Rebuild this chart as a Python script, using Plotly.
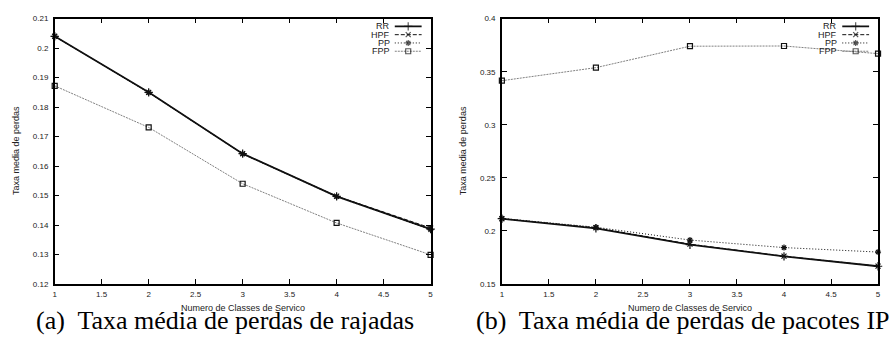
import plotly.graph_objects as go

classes = [1, 2, 3, 4, 5]

# (a) Taxa media de perdas de rajadas
a_rr = [0.2040, 0.1850, 0.1642, 0.1497, 0.1386]
a_hpf = [0.2040, 0.1850, 0.1642, 0.1498, 0.1390]
a_pp = [0.2040, 0.1849, 0.1641, 0.1496, 0.1384]
a_fpp = [0.1872, 0.1731, 0.1540, 0.1407, 0.1299]

# (b) Taxa media de perdas de pacotes IP
b_rr = [0.2115, 0.2025, 0.1870, 0.1760, 0.1667]
b_hpf = [0.2115, 0.2030, 0.1875, 0.1762, 0.1668]
b_pp = [0.2118, 0.2035, 0.1914, 0.1843, 0.1801]
b_fpp = [0.3415, 0.3538, 0.3740, 0.3742, 0.3670]

series_names = ["RR", "HPF", "PP", "FPP"]

x_tickvals = [1, 1.5, 2, 2.5, 3, 3.5, 4, 4.5, 5]
x_ticktext = ["1", "1.5", "2", "2.5", "3", "3.5", "4", "4.5", "5"]
a_tickvals = [0.12, 0.13, 0.14, 0.15, 0.16, 0.17, 0.18, 0.19, 0.20, 0.21]
a_ticktext = ["0.12", "0.13", "0.14", "0.15", "0.16", "0.17", "0.18", "0.19", "0.2", "0.21"]
b_tickvals = [0.15, 0.20, 0.25, 0.30, 0.35, 0.40]
b_ticktext = ["0.15", "0.2", "0.25", "0.3", "0.35", "0.4"]

captions = ["(a)  Taxa média de perdas de rajadas", "(b)  Taxa média de perdas de pacotes IP"]
x_title = "Numero de Classes de Servico"
y_title = "Taxa media de perdas"

styles = {
    "RR": dict(color="#111111", dash="solid", width=1.8, symbol="cross-thin-open", msize=6),
    "HPF": dict(color="#111111", dash="4px,2px", width=1.0, symbol="x-thin-open", msize=5),
    "PP": dict(color="#111111", dash="1px,2px", width=1.0, symbol="asterisk-open", msize=5),
    "FPP": dict(color="#808080", dash="2px,1px", width=1.0, symbol="square-open", msize=5),
}

W, H = 890, 345
def px_x(p):
    return p / W
def px_y(p):
    return 1 - p / H

TOP, BOT = 15, 287.5
ydom = [px_y(BOT), px_y(TOP)]
panel_px = [(53, 431), (502.7, 881)]
xdoms = [[px_x(a), px_x(b)] for a, b in panel_px]

fig = go.Figure()

panels = [
    ("x", "y", [a_rr, a_hpf, a_pp, a_fpp]),
    ("x2", "y2", [b_rr, b_hpf, b_pp, b_fpp]),
]
for xa, ya, data in panels:
    for name, vals in zip(series_names, data):
        s = styles[name]
        fig.add_trace(go.Scatter(
            x=classes, y=vals, name=name, xaxis=xa, yaxis=ya, showlegend=False,
            mode="lines+markers", cliponaxis=False,
            line=dict(color=s["color"], dash=s["dash"], width=s["width"]),
            marker=dict(symbol=s["symbol"], size=s["msize"],
                        line=dict(color="#111111", width=1.2), color="#111111"),
        ))

# gnuplot-style key: overlay axes measured in pixels from the panel's top-right corner
legend_font = dict(family="Liberation Sans, Arial, sans-serif", size=9, color="#222222")
for k, (xa, ya) in enumerate([("x3", "y3"), ("x4", "y4")]):
    pw = panel_px[k][1] - panel_px[k][0]
    for i, name in enumerate(series_names):
        s = styles[name]
        yrow = 8 + 8.5 * i
        fig.add_trace(go.Scatter(
            x=[pw - 36, pw - 22.5, pw - 9], y=[yrow] * 3, xaxis=xa, yaxis=ya, showlegend=False,
            mode="lines+markers", hoverinfo="skip",
            line=dict(color=s["color"], dash=s["dash"], width=s["width"]),
            marker=dict(symbol=s["symbol"], size=[0, s["msize"], 0],
                        line=dict(color="#111111", width=1.2), color="#111111"),
        ))
        fig.add_annotation(xref=xa, yref=ya, x=pw - 40, y=yrow, text=name, showarrow=False,
                           xanchor="right", yanchor="middle", font=legend_font, borderpad=0)

tickfont = dict(family="Liberation Sans, Arial, sans-serif", size=8, color="#222222")
axis_common = dict(showline=True, linecolor="black", linewidth=1.5, mirror="allticks",
                   ticks="inside", ticklen=5, tickcolor="black", tickwidth=1,
                   showgrid=False, zeroline=False, tickfont=tickfont)
xaxis_common = dict(axis_common, ticklabelstandoff=2)
yaxis_common = dict(axis_common, ticklabelstandoff=3)
hidden = dict(visible=False, showgrid=False, zeroline=False, fixedrange=True)

fig.update_layout(
    width=W, height=H,
    margin=dict(l=0, r=0, t=0, b=0),
    paper_bgcolor="white", plot_bgcolor="rgba(0,0,0,0)",
    showlegend=False,
    xaxis=dict(domain=xdoms[0], range=[1, 5], tickvals=x_tickvals, ticktext=x_ticktext, anchor="y", **xaxis_common),
    yaxis=dict(domain=ydom, range=[0.12, 0.21], tickvals=a_tickvals, ticktext=a_ticktext, anchor="x", **yaxis_common),
    xaxis2=dict(domain=xdoms[1], range=[1, 5], tickvals=x_tickvals, ticktext=x_ticktext, anchor="y2", **xaxis_common),
    yaxis2=dict(domain=ydom, range=[0.15, 0.40], tickvals=b_tickvals, ticktext=b_ticktext, anchor="x2", **yaxis_common),
    xaxis3=dict(domain=xdoms[0], range=[0, panel_px[0][1] - panel_px[0][0]], anchor="y3", **hidden),
    yaxis3=dict(domain=ydom, range=[BOT - TOP, 0], anchor="x3", **hidden),
    xaxis4=dict(domain=xdoms[1], range=[0, panel_px[1][1] - panel_px[1][0]], anchor="y4", **hidden),
    yaxis4=dict(domain=ydom, range=[BOT - TOP, 0], anchor="x4", **hidden),
)

small = dict(family="Liberation Sans, Arial, sans-serif", size=9, color="#222222")
cap = dict(family="Liberation Serif, Times New Roman, serif", size=26, color="black")
for xd in xdoms:
    cx = (xd[0] + xd[1]) / 2
    fig.add_annotation(xref="paper", yref="paper", x=cx, y=px_y(312.5), text=x_title,
                       showarrow=False, font=small, xanchor="center", yanchor="middle",
                       borderpad=0)
    fig.add_annotation(xref="paper", yref="paper", x=xd[0] - px_x(39.5), y=px_y(150.5),
                       text=y_title, textangle=-90, showarrow=False, font=small,
                       xanchor="center", yanchor="middle")
for cxp, c in zip([224, 685], captions):
    fig.add_annotation(xref="paper", yref="paper", x=px_x(cxp), y=px_y(325), text=c,
                       showarrow=False, font=cap, xanchor="center", yanchor="middle",
                       borderpad=0)

fig.write_html("out.html", config={"displayModeBar": False},
               post_script="document.body.style.margin='0px';")
